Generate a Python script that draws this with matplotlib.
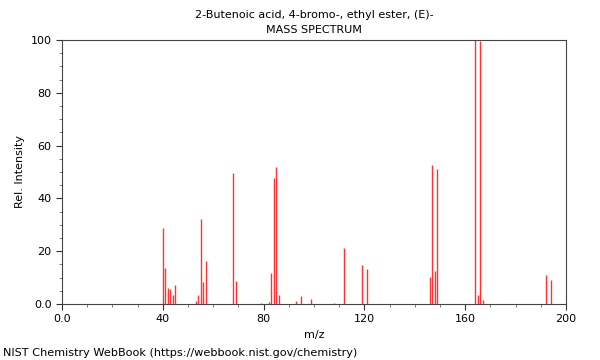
import matplotlib
matplotlib.use("Agg")
import matplotlib.pyplot as plt
from matplotlib.ticker import MultipleLocator, FuncFormatter

# peaks
mz = [40, 41, 42, 43, 44, 45, 53, 54, 55, 56, 57, 68, 69, 79, 82, 83, 84, 85, 86,
      93, 95, 99, 108, 112, 119, 121, 146, 147, 148, 149, 164, 165, 166, 167, 192, 194]
intensity = [28.6, 13.5, 6.2, 5.7, 3.5, 7.1, 1.3, 3.4, 32.2, 8.3, 16.3, 49.7, 8.6, 0.3, 0.6,
             11.9, 47.7, 51.9, 3.4, 1.1, 3.0, 1.9, 0.3, 21.2, 14.8, 13.3, 10.2, 52.7, 12.5,
             51.1, 100.0, 3.4, 99.5, 1.5, 11.0, 9.2]

title = "2-Butenoic acid, 4-bromo-, ethyl ester, (E)-"
subtitle = "MASS SPECTRUM"
footer = "NIST Chemistry WebBook (https://webbook.nist.gov/chemistry)"

plt.rcParams['font.family'] = ['DejaVu Sans']
plt.rcParams['font.size'] = 8

fig = plt.figure(figsize=(6, 3.6), dpi=100)
ax = fig.add_axes([0.1033, 0.1556, 0.84, 0.7333])

ax.vlines(mz, 0, intensity, color='#ff3333', linewidth=1)

ax.set_xlim(0, 200)
ax.set_ylim(0, 100)
ax.xaxis.set_major_locator(MultipleLocator(40))
ax.xaxis.set_minor_locator(MultipleLocator(10))
ax.yaxis.set_major_locator(MultipleLocator(20))
ax.yaxis.set_minor_locator(MultipleLocator(5))
fmt = FuncFormatter(lambda v, p: "0.0" if v == 0 else "%d" % v)
ax.xaxis.set_major_formatter(fmt)
ax.yaxis.set_major_formatter(fmt)
ax.tick_params(which='major', length=4, direction='out', color='#333333')
ax.tick_params(which='minor', length=2, direction='out', color='#666666')
for s in ax.spines.values():
    s.set_color('#444444')
    s.set_linewidth(0.8)

ax.set_xlabel("m/z", fontsize=8)
ax.set_ylabel("Rel. Intensity", fontsize=8)

# titles are centred over the plot area, not the figure
ax.text(0.5, 1.0 + 25 / 264, title, transform=ax.transAxes, ha='center', va='center', fontsize=8)
ax.text(0.5, 1.0 + 10 / 264, subtitle, transform=ax.transAxes, ha='center', va='center', fontsize=8)
fig.text(0.005, 0.02, footer, ha='left', va='center', fontsize=8.1)

fig.savefig("out.png", dpi=100)
